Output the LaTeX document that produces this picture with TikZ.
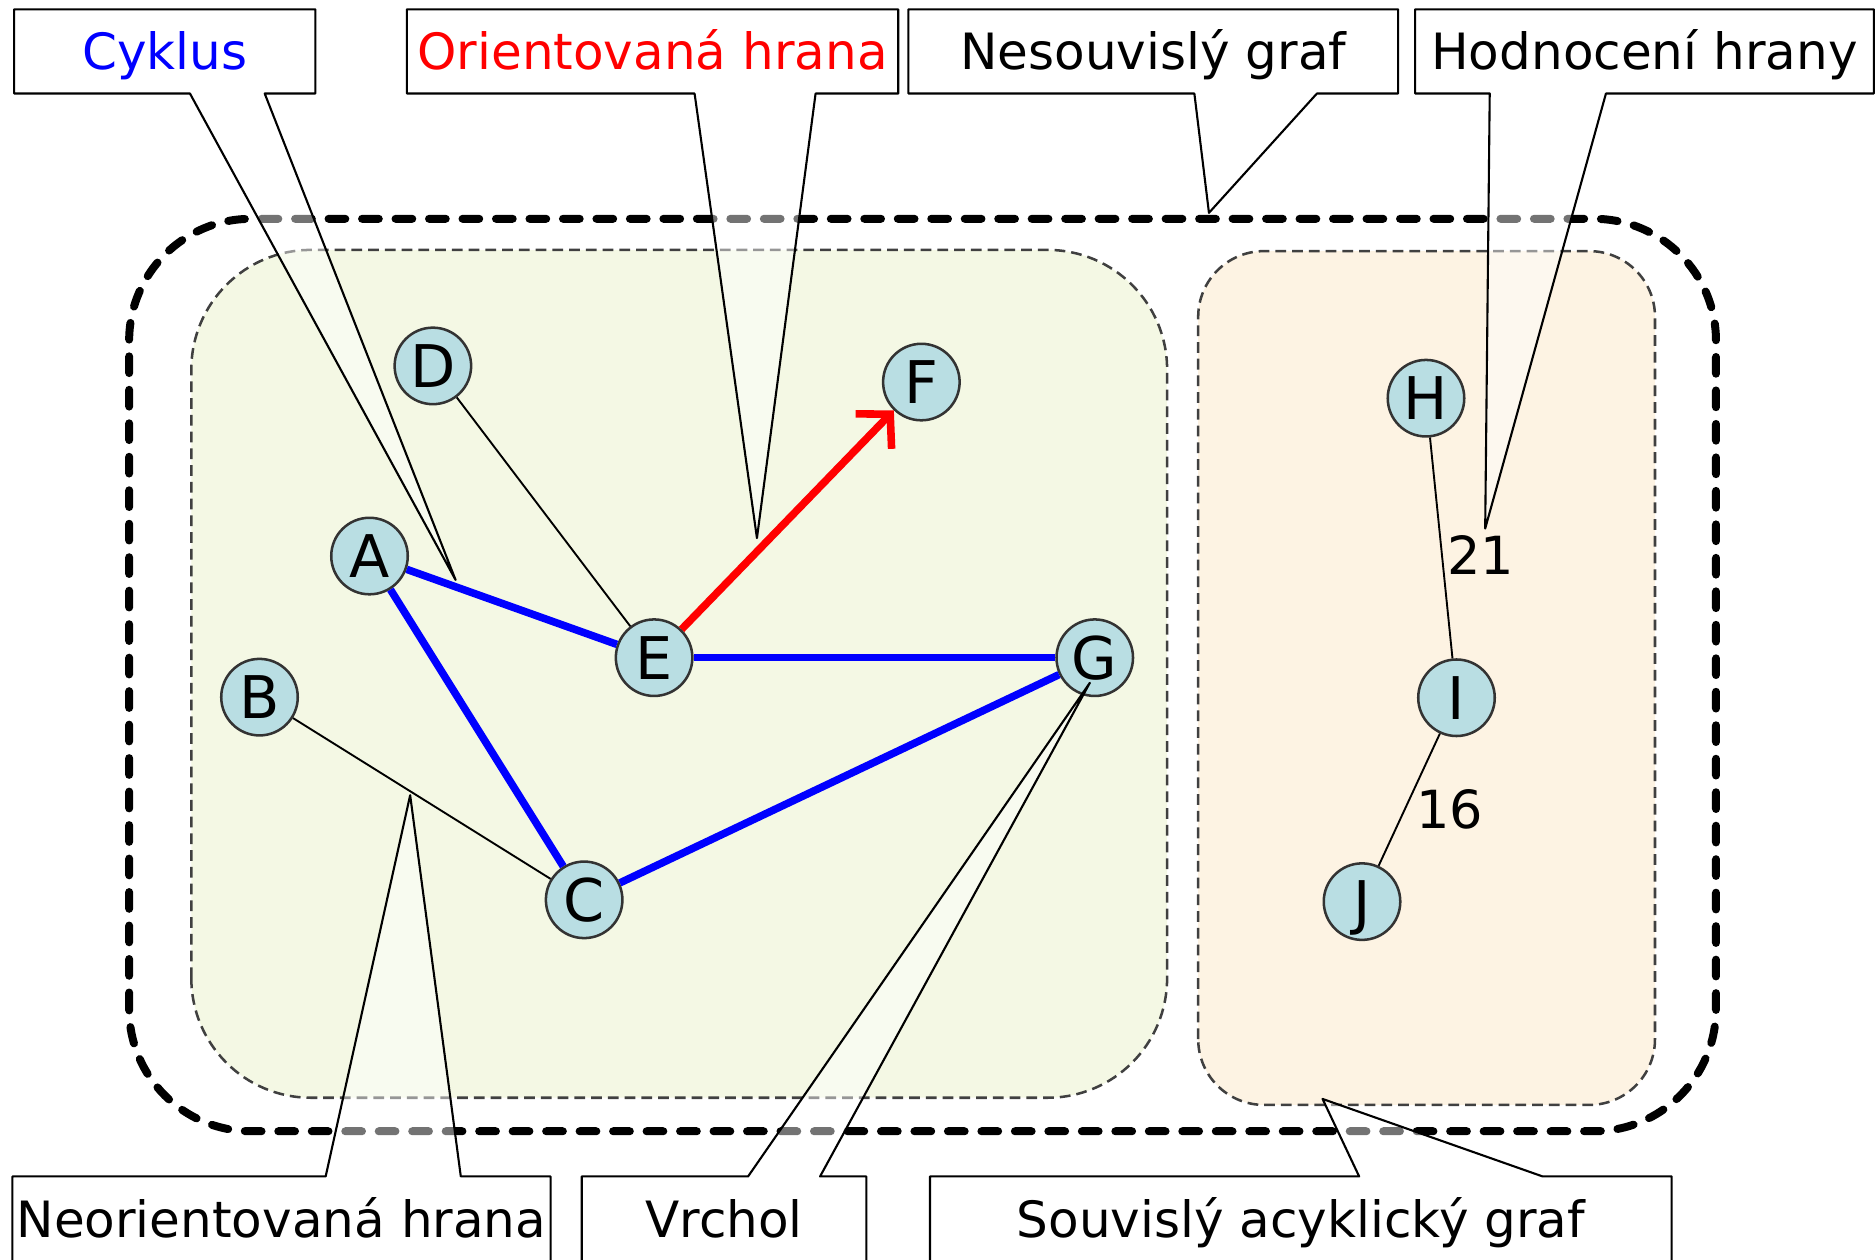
\documentclass[tikz,border=0pt]{standalone}
\usepackage{fontspec}
\setmainfont{DejaVu Sans}
\usetikzlibrary{arrows.meta}
\definecolor{vertexblue}{RGB}{185,222,227}
\definecolor{leftgreen}{RGB}{244,248,228}
\definecolor{rightorange}{RGB}{253,243,227}
\tikzset{
vertex/.style={circle,draw=black!80,line width=.6pt,fill=vertexblue,minimum size=.64cm,inner sep=0pt,text height=10.2pt,text depth=0pt,font=\fontsize{14}{14}\selectfont},
cycleedge/.style={blue,line width=1.8pt},
plainedge/.style={black,line width=.45pt},
weight/.style={inner sep=1pt,font=\fontsize{12.5}{12.5}\selectfont},
labelbox/.style={minimum height=.69cm,inner sep=0pt,text height=8.7pt,text depth=0pt,font=\fontsize{11.9}{11.9}\selectfont},
calloutline/.style={black,line width=.5pt,line join=round},
groupbox/.style={draw=black!75,line width=.6pt,dash pattern=on .09cm off .05cm,rounded corners=#1},
groupbox/.default=1cm
}
\NewDocumentCommand\DrawCallout{mmmmmm}%
{%
\fill[white,fill opacity=.45] ([xshift=#4cm]#1.#2 west) -- (#6) -- ([xshift=#5cm]#1.#2 west) -- cycle;%
\draw[calloutline] (#1.#2 west) -- ([xshift=#4cm]#1.#2 west) -- (#6) -- ([xshift=#5cm]#1.#2 west) -- (#1.#2 east) -- (#1.#3 east) -- (#1.#3 west) -- cycle;%
}

\begin{document}
\begin{tikzpicture}
\useasboundingbox (0,0) rectangle (15.68,10.53);
% the whole (disconnected) graph
\draw[line width=1.9pt,dash pattern=on .14cm off .14cm,line cap=round,rounded corners=1.02cm] (1.08,1.07) rectangle (14.35,8.70);
% its two components
\filldraw[groupbox,fill=leftgreen] (1.60,1.35) rectangle (9.76,8.44);
\filldraw[groupbox=.55cm,fill=rightorange] (10.02,1.29) rectangle (13.84,8.43);

\node[vertex] (A) at (3.09,5.88) {A};
\node[vertex] (B) at (2.17,4.70) {B};
\node[vertex] (C) at (4.885,3.005) {C};
\node[vertex] (D) at (3.62,7.47) {D};
\node[vertex] (E) at (5.47,5.03) {E};
\node[vertex] (F) at (7.705,7.335) {F};
\node[vertex] (G) at (9.155,5.03) {G};
\node[vertex] (H) at (11.925,7.20) {H};
\node[vertex] (I) at (12.18,4.695) {I};
\node[vertex] (J) at (11.39,2.99) {J};

\draw[plainedge] (D) -- (E);
\draw[plainedge] (B) -- (C);
\draw[cycleedge] (A) -- (E);
\draw[cycleedge] (A) -- (C);
\draw[cycleedge] (E) -- (G);
\draw[cycleedge] (C) -- (G);
\draw[red,line width=1.8pt,-{Straight Barb[length=2mm,width=4.2mm]}] (E) -- (F);
\draw[plainedge] (H) -- node[weight,right,pos=.53] {21} (I);
\draw[plainedge] (I) -- node[weight,right=1.5pt,pos=.57] {16} (J);

% callouts
\coordinate (cyklusTip) at (3.81,5.68);
\coordinate (orientTip) at (6.33,6.03);
\coordinate (nesouvTip) at (10.11,8.75);
\coordinate (hodnotaTip) at (12.42,6.11);
\coordinate (neorientTip) at (3.43,3.88);
\coordinate (vrcholTip) at (9.114,4.82);
\coordinate (souvisTip) at (11.06,1.34);

\node[labelbox,minimum width=2.505cm,text=blue] (cyklus) at (1.378,10.10) {Cyklus};
\node[labelbox,minimum width=4.095cm,text=red] (orient) at (5.457,10.10) {Orientovaná hrana};
\node[labelbox,minimum width=4.082cm] (nesouv) at (9.644,10.10) {Nesouvislý graf};
\node[labelbox,minimum width=3.822cm] (hodnota) at (13.752,10.10) {Hodnocení hrany};
\node[labelbox,minimum width=4.487cm,minimum height=.70cm] (neorient) at (2.354,.335) {Neorientovaná hrana};
\node[labelbox,minimum width=2.366cm,minimum height=.70cm] (vrchol) at (6.055,.335) {Vrchol};
\node[labelbox,minimum width=6.188cm,minimum height=.70cm] (souvis) at (10.878,.335) {Souvislý acyklický graf};

\DrawCallout{cyklus}{south}{north}{1.47}{2.095}{cyklusTip}
\DrawCallout{orient}{south}{north}{2.406}{3.418}{orientTip}
\DrawCallout{nesouv}{south}{north}{2.392}{3.417}{nesouvTip}
\DrawCallout{hodnota}{south}{north}{.624}{1.596}{hodnotaTip}
\DrawCallout{neorient}{north}{south}{2.62}{3.75}{neorientTip}
\DrawCallout{vrchol}{north}{south}{1.391}{1.993}{vrcholTip}
\DrawCallout{souvis}{north}{south}{3.589}{5.123}{souvisTip}
\end{tikzpicture}
\end{document}
